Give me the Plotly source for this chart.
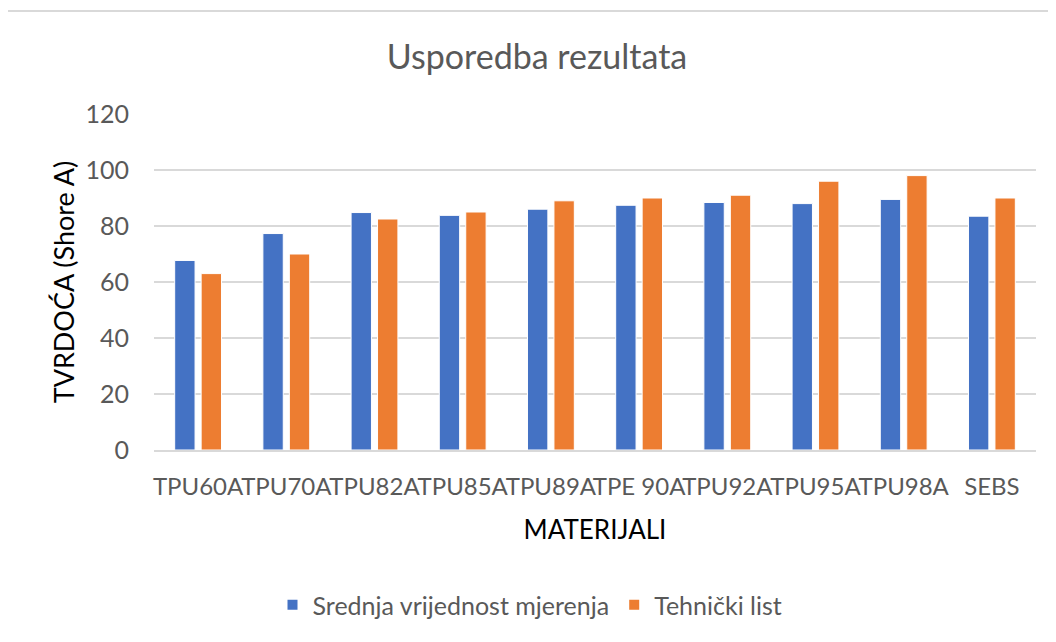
import plotly.graph_objects as go

categories = ["TPU60A", "TPU70A", "TPU82A", "TPU85A", "TPU89A", "TPE 90A", "TPU92A", "TPU95A", "TPU98A", "SEBS"]
measured = [67.7, 77.3, 84.8, 83.8, 86.0, 87.4, 88.4, 88.0, 89.5, 83.5]
datasheet = [63.0, 70.0, 82.5, 85.0, 89.0, 90.0, 91.0, 96.0, 98.0, 90.0]
series_names = ["Srednja vrijednost mjerenja", "Tehnički list"]
y_ticks = [0, 20, 40, 60, 80, 100, 120]

FONT = "Lato, Carlito, Calibri, sans-serif"
GRAY = "#595959"

fig = go.Figure()
fig.add_trace(go.Bar(x=categories, y=measured, name=series_names[0],
                     marker=dict(color="#4472C4", line=dict(color="white", width=1))))
fig.add_trace(go.Bar(x=categories, y=datasheet, name=series_names[1],
                     marker=dict(color="#ED7D31", line=dict(color="white", width=1))))

OFF = 8  # page offset of the figure div
W, H = 1056, 642
# desired page coordinates of the plot area
PX0, PX1, PY0, PY1 = 154, 1036, 114, 450
L = PX0 - OFF
R = W + OFF - PX1
T = PY0 - OFF
B = H + OFF - PY1
pw, ph = PX1 - PX0, PY1 - PY0


def px(x):
    return (x - PX0) / pw


def py(y):
    return (PY1 - y) / ph


fig.update_layout(
    width=W, height=H,
    margin=dict(l=L, r=R, t=T, b=B, autoexpand=False),
    paper_bgcolor="white", plot_bgcolor="white",
    barmode="group", bargap=0.40, bargroupgap=0.23,
    font=dict(family=FONT, color=GRAY),
    title=dict(text="Usporedba rezultata", x=(537 - OFF) / W, xref="container", xanchor="center",
               y=1 - (57 - OFF) / H, yref="container", yanchor="middle",
               font=dict(size=34, color=GRAY, family=FONT)),
    legend=dict(orientation="h", x=px(530), xanchor="center",
                y=py(605), yanchor="middle",
                font=dict(size=25, color=GRAY, family=FONT),
                itemsizing="constant", traceorder="normal"),
    showlegend=True,
)

fig.update_yaxes(range=[0, 120], tickvals=y_ticks, showgrid=True, gridcolor="#d9d9d9", gridwidth=2,
                 zeroline=False, showline=False, ticks="", ticklabelstandoff=24,
                 tickfont=dict(size=25, color=GRAY, family=FONT),
                 title=dict(text="TVRDOĆA (Shore A)", standoff=3,
                            font=dict(size=27, color="#000000", family=FONT)))
fig.update_xaxes(showline=True, linecolor="#d9d9d9", linewidth=2, ticks="", ticklabelstandoff=14,
                 tickfont=dict(size=24, color=GRAY, family=FONT), tickangle=0,
                 title=dict(text="MATERIJALI", standoff=22,
                            font=dict(size=26, color="#000000", family=FONT)))

# chart-area frame
fig.add_shape(type="rect", xref="paper", yref="paper",
              x0=px(7), x1=px(1090), y0=py(700), y1=py(11),
              line=dict(color="#d9d9d9", width=2), fillcolor="rgba(0,0,0,0)", layer="below")

fig.write_html("out.html")
